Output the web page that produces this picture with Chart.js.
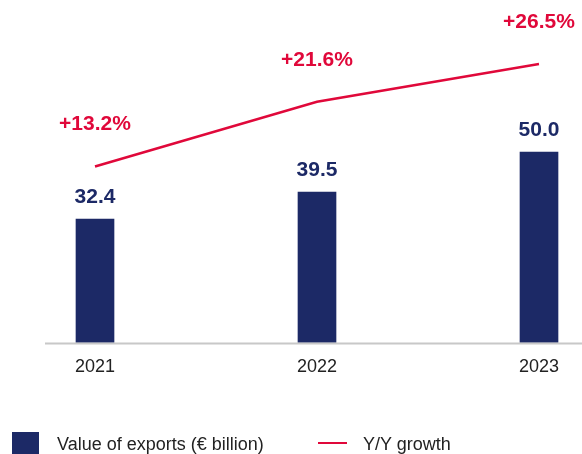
<!DOCTYPE html>
<html>
<head>
<meta charset="utf-8">
<script src="https://cdn.jsdelivr.net/npm/chart.js@4"></script>
<style>
    html, body { margin: 0; padding: 0; background: #fff; overflow: hidden; }
    .contenedor { position: relative; width: 582px; height: 454px; }
    #grafico { display: block; }
    .leyenda { position: absolute; top: 431px; left: 0; width: 582px; height: 27px;
        font: 18px "Liberation Sans", Arial, sans-serif; color: #222; }
    .leyenda span { position: absolute; }
    .cuadro { left: 12px; top: 1px; width: 27px; height: 27px; background: #1c2966; }
    .raya { left: 318px; top: 11px; width: 29px; height: 2px; background: #e0083a; }
    .txt1 { left: 57px; top: 3px; }
    .txt2 { left: 363px; top: 3px; }
</style>
</head>
<body>
<div class="contenedor">
    <canvas id="grafico" width="582" height="454"></canvas>
    <div class="leyenda">
        <span class="cuadro"></span><span class="txt1">Value of exports (€ billion)</span>
        <span class="raya"></span><span class="txt2">Y/Y growth</span>
    </div>
</div>
<script>
const anios = ['2021', '2022', '2023'];
const exportaciones = [32.4, 39.5, 50.0];   // € billion
const crecimiento = [13.2, 21.6, 26.5];     // % Y/Y

const AZUL = '#1c2966';
const ROJO = '#e0083a';

// Línea base gris que cruza todo el ancho
const lineaBase = {
    id: 'lineaBase',
    afterDatasetsDraw(chart) {
        const { ctx, chartArea } = chart;
        ctx.save();
        ctx.strokeStyle = '#c8c8c8';
        ctx.lineWidth = 2;
        ctx.beginPath();
        ctx.moveTo(45, chartArea.bottom + 1);
        ctx.lineTo(chart.width, chartArea.bottom + 1);
        ctx.stroke();
        ctx.restore();
    }
};

// Etiquetas de valores sobre barras y línea
const etiquetas = {
    id: 'etiquetas',
    afterDatasetsDraw(chart) {
        const ctx = chart.ctx;
        ctx.save();
        ctx.font = 'bold 21px "Liberation Sans", Arial, sans-serif';
        ctx.textAlign = 'center';
        ctx.textBaseline = 'middle';
        chart.getDatasetMeta(1).data.forEach((barra, i) => {
            ctx.fillStyle = AZUL;
            ctx.fillText(exportaciones[i].toFixed(1), barra.x, barra.y - 22);
        });
        chart.getDatasetMeta(0).data.forEach((punto, i) => {
            ctx.fillStyle = ROJO;
            ctx.fillText('+' + crecimiento[i].toFixed(1) + '%', punto.x, punto.y - 42);
        });
        ctx.restore();
    }
};

const ctx = document.getElementById('grafico').getContext('2d');
const chart = new Chart(ctx, {
    data: {
        labels: anios,
        datasets: [{
            type: 'line',
            label: 'Y/Y growth',
            data: crecimiento,
            yAxisID: 'y1',
            borderColor: ROJO,
            borderWidth: 2.5,
            pointRadius: 0,
            tension: 0,
            clip: false,
            order: 0
        }, {
            type: 'bar',
            label: 'Value of exports (€ billion)',
            data: exportaciones,
            yAxisID: 'y',
            backgroundColor: AZUL,
            barThickness: 38,
            clip: false,
            order: 1
        }]
    },
    options: {
        responsive: false,
        animation: false,
        layout: { padding: { top: 0, left: 95, right: 43, bottom: 62 } },
        plugins: {
            legend: { display: false },
            tooltip: { enabled: false }
        },
        scales: {
            x: {
                offset: false,
                grid: { display: false, drawTicks: false },
                border: { display: false },
                ticks: {
                    padding: 14,
                    color: '#222',
                    font: { family: '"Liberation Sans", Arial, sans-serif', size: 18, lineHeight: 1.2 }
                }
            },
            y: { display: false, min: 0, max: 90 },
            y1: { display: false, min: -9.6, max: 34.8 }
        }
    },
    plugins: [lineaBase, etiquetas]
});
</script>
</body>
</html>
